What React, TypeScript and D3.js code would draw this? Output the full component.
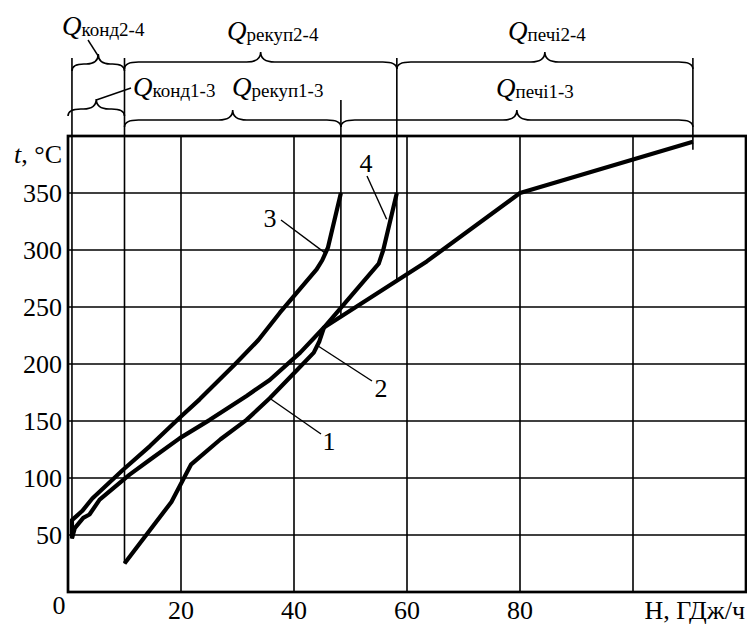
import React from "react";
import * as d3 from "d3";

// ---- data (H in GJ/h, t in °C) ----
const xGrid = [20, 40, 60, 80, 100];
const yGrid = [50, 100, 150, 200, 250, 300, 350];
const xTickLabels = ["0", "20", "40", "60", "80"];
const xTickValues = [0, 20, 40, 60, 80];
const yTickValues = [50, 100, 150, 200, 250, 300, 350];

// cold composite curve (labels 1, 2)
const curve12: [number, number][] = [
  [10, 25], [18.3, 79], [21.8, 112], [27, 134], [31.6, 151], [35.7, 170],
  [40.2, 193], [43.5, 210], [44.5, 220], [45.3, 232], [63.5, 290], [80, 350], [110.6, 395],
];
// hot composite curve 3
const curve3: [number, number][] = [
  [0.7, 47], [0.7, 63], [1.6, 67], [2.5, 71], [4.3, 82], [9.7, 107], [14.5, 128],
  [19.8, 153], [23.3, 169], [29.6, 200], [33.7, 221], [37.5, 245], [44, 283],
  [45, 291], [46, 302], [48.3, 350],
];
// hot composite curve 4
const curve4: [number, number][] = [
  [0.7, 47], [1.2, 56], [2.7, 65], [3.8, 68], [5.6, 81], [10.9, 103], [14.5, 116],
  [19.8, 135], [25.1, 151], [31.6, 172], [35.7, 186], [41.1, 210], [45.3, 232],
  [55, 288], [55.8, 300], [58.2, 350],
];

// boundary vertical lines: H, temperature where they end on a curve, top row
const boundaryH = [0.7, 10, 48.3, 58.2, 110.6];
const boundaryEndT = [47, 25, 242, 274, 388];
const boundaryTopRow = ["A", "A", "B", "A", "A"];

// braces: [H from, H to]
const braces24: [number, number][] = [[0.7, 10], [10, 58.2], [58.2, 110.6]];
const braces13: [number, number][] = [[0, 10], [10, 48.3], [48.3, 110.6]];
const subs24 = ["конд2-4", "рекуп2-4", "печі2-4"];
const subs13 = ["конд1-3", "рекуп1-3", "печі1-3"];

const W = 747;
const H = 625;
const FONT = "Liberation Serif";

export default function App() {
  const x = d3.scaleLinear().domain([0, 120]).range([68, 746]);
  const y = d3.scaleLinear().domain([0, 400]).range([592, 136]);
  const line = d3
    .line<[number, number]>()
    .x((d) => x(d[0]))
    .y((d) => y(d[1]));

  const brace = (x1: number, x2: number, yy: number, h: number, r: number, hc: number) => {
    const xm = (x1 + x2) / 2;
    const rr = Math.min(r, (xm - x1) / 2.2);
    return `M${x1},${yy + h} Q${x1},${yy} ${x1 + rr},${yy} L${xm - rr},${yy} Q${xm},${yy} ${xm},${yy - hc} Q${xm},${yy} ${xm + rr},${yy} L${x2 - rr},${yy} Q${x2},${yy} ${x2},${yy + h}`;
  };

  const rowAY = 62;
  const rowATop = 58;
  const rowBTop = 100;

  const qLabel = (sub: string, lx: number, ly: number, key: string) => (
    <text key={key} x={lx} y={ly} fontFamily={FONT}>
      <tspan fontStyle="italic" fontSize={27}>Q</tspan>
      <tspan fontSize={19} dy={1}>{sub}</tspan>
    </text>
  );

  return (
    <svg
      width={W}
      height={H}
      style={{ position: "absolute", left: 0, top: 0, background: "#fff" }}
    >
      <rect x={0} y={0} width={W} height={H} fill="#fff" />
      {/* grid */}
      {xGrid.map((v) => (
        <line key={"gx" + v} x1={x(v)} x2={x(v)} y1={y(0)} y2={y(400)} stroke="#000" strokeWidth={1.6} />
      ))}
      {yGrid.map((v) => (
        <line key={"gy" + v} x1={x(0)} x2={x(120)} y1={y(v)} y2={y(v)} stroke="#000" strokeWidth={1.6} />
      ))}
      {/* border */}
      <rect x={x(0)} y={y(400)} width={x(120) - x(0)} height={y(0) - y(400)} fill="none" stroke="#000" strokeWidth={2.7} />

      {/* boundary vertical lines */}
      {boundaryH.map((h, i) => (
        <line
          key={"b" + i}
          x1={x(h)}
          x2={x(h)}
          y1={boundaryTopRow[i] === "A" ? rowATop : rowBTop}
          y2={y(boundaryEndT[i])}
          stroke="#000"
          strokeWidth={1.6}
        />
      ))}

      {/* braces row 2-4 */}
      {braces24.map(([a, b], i) => (
        <path
          key={"ba" + i}
          d={brace(x(a), x(b), i === 0 ? 64 : rowAY, 7, 14, 10)}
          fill="none"
          stroke="#000"
          strokeWidth={1.6}
        />
      ))}
      {/* braces row 1-3 */}
      {braces13.map(([a, b], i) => (
        <path
          key={"bb" + i}
          d={brace(x(a), x(b), i === 0 ? 109 : 120, 7, 14, 10)}
          fill="none"
          stroke="#000"
          strokeWidth={1.6}
        />
      ))}

      {/* leaders for конд labels */}
      <line x1={88} y1={40} x2={x(5.35)} y2={56} stroke="#000" strokeWidth={1.4} />
      <line x1={131} y1={88} x2={x(5)} y2={100} stroke="#000" strokeWidth={1.4} />

      {/* Q labels */}
      {qLabel(subs24[0], 62, 35, "q1")}
      {qLabel(subs13[0], 133, 96, "q2")}
      {qLabel(subs24[1], 227, 40, "q3")}
      {qLabel(subs13[1], 232, 96, "q4")}
      {qLabel(subs24[2], 508, 40, "q5")}
      {qLabel(subs13[2], 496, 97, "q6")}

      {/* curves */}
      {[curve12, curve3, curve4].map((c, i) => (
        <path key={"c" + i} d={line(c) || ""} fill="none" stroke="#000" strokeWidth={4.2} strokeLinejoin="round" />
      ))}

      {/* curve labels with leaders */}
      <line x1={281} y1={220} x2={x(45.6)} y2={y(297)} stroke="#000" strokeWidth={1.4} />
      <text x={270} y={227} fontFamily={FONT} fontSize={26} textAnchor="middle">3</text>
      <line x1={367} y1={176} x2={x(56.4)} y2={y(327)} stroke="#000" strokeWidth={1.4} />
      <text x={366} y={172} fontFamily={FONT} fontSize={26} textAnchor="middle">4</text>
      <line x1={372} y1={381} x2={x(44.2)} y2={y(216)} stroke="#000" strokeWidth={1.4} />
      <text x={381} y={397} fontFamily={FONT} fontSize={26} textAnchor="middle">2</text>
      <line x1={321} y1={434} x2={x(35.7)} y2={y(170)} stroke="#000" strokeWidth={1.4} />
      <text x={329} y={450} fontFamily={FONT} fontSize={26} textAnchor="middle">1</text>

      {/* y tick labels */}
      {yTickValues.map((v) => (
        <text key={"yt" + v} x={62} y={y(v) + 9} fontFamily={FONT} fontSize={26} textAnchor="end">
          {v}
        </text>
      ))}
      <text x={62} y={163} fontFamily={FONT} fontSize={26} textAnchor="end">
        <tspan fontStyle="italic">t</tspan>, °C
      </text>

      {/* x tick labels */}
      {xTickValues.map((v, i) => (
        <text
          key={"xt" + v}
          x={v === 0 ? 59 : x(v)}
          y={v === 0 ? 614 : 619}
          fontFamily={FONT}
          fontSize={26}
          textAnchor="middle"
        >
          {xTickLabels[i]}
        </text>
      ))}
      <text x={745} y={619} fontFamily={FONT} fontSize={26} textAnchor="end">
        Н, ГДж/ч
      </text>
    </svg>
  );
}
